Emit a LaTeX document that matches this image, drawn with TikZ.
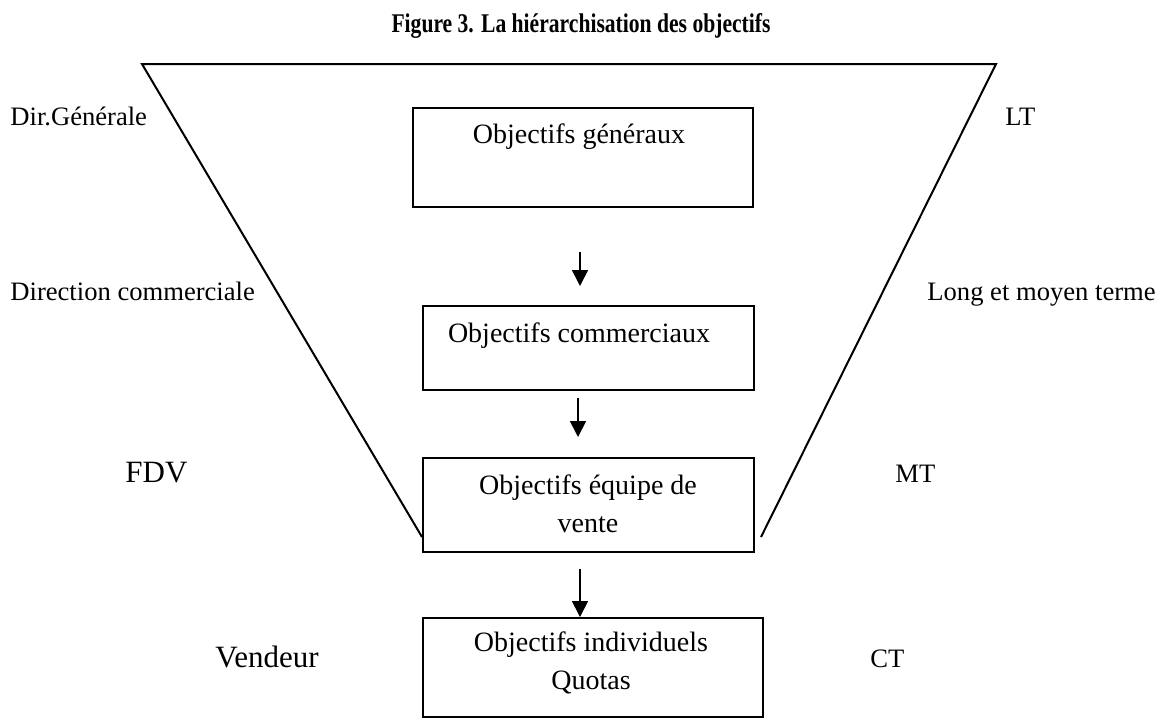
\documentclass[tikz,border=0pt]{standalone}
\usepackage{graphicx}
\usepackage{fontspec}
\setmainfont{Liberation Serif}
\usetikzlibrary{arrows.meta}
\begin{document}
\begin{tikzpicture}[x=0.5pt,y=-0.5pt,
  boxstyle/.style={draw,line width=1pt,inner sep=0pt,anchor=north west},
  boxtext/.style={anchor=base,inner sep=0pt,font=\fontsize{14}{19}\selectfont,align=center},
  smalllab/.style={anchor=base west,inner sep=0pt,font=\fontsize{13.3}{16}\selectfont},
  biglab/.style={anchor=base west,inner sep=0pt,font=\fontsize{15.5}{18}\selectfont},
  flow/.style={line width=0.8pt,-{Triangle[length=8pt,width=8pt]}},
  funnel/.style={line width=1pt}]
\useasboundingbox (0,0) rectangle (1160,720);
% title
\node[anchor=base,inner sep=0pt,font=\bfseries\fontsize{13.5}{16}\selectfont] (title) at (581,32) {\scalebox{0.8}[1]{Figure 3. La hiérarchisation des objectifs}};
% funnel
\coordinate (tl) at (142,64);
\coordinate (tr) at (996,64);
\coordinate (bl) at (422,537);
\coordinate (br) at (761,537);
\draw[funnel] (bl) -- (tl) -- (tr) -- (br);
% boxes
\node[boxstyle,minimum width=340*0.5pt,minimum height=99*0.5pt] (b1) at (412,107) {};
\node[boxstyle,minimum width=331*0.5pt,minimum height=84*0.5pt] (b2) at (422,305) {};
\node[boxstyle,minimum width=331*0.5pt,minimum height=94*0.5pt] (b3) at (422,457) {};
\node[boxstyle,minimum width=340*0.5pt,minimum height=99*0.5pt] (b4) at (422,617) {};
% box texts (base = baseline of last line)
\node[boxtext] (t1) at (579,143) {Objectifs généraux};
\node[boxtext] (t2) at (579,342) {Objectifs commerciaux};
\node[boxtext] (t3) at (588,532) {Objectifs équipe de\\vente};
\node[boxtext] (t4) at (591,689) {Objectifs individuels\\Quotas};
% arrows
\coordinate (a1s) at (580,252);
\coordinate (a1e) at (580,286);
\coordinate (a2s) at (578,398);
\coordinate (a2e) at (578,437);
\coordinate (a3s) at (580,569);
\draw[flow] (a1s) -- (a1e);
\draw[flow] (a2s) -- (a2e);
\draw[flow] (a3s) -- (b4.north -| a3s);
% side labels
\node[smalllab] (dg) at (10,125) {Dir.Générale};
\node[smalllab] (dc) at (10,300) {Direction commerciale};
\node[biglab] (fdv) at (125,482) {FDV};
\node[biglab] (vend) at (215,667) {Vendeur};
\node[smalllab] (lt) at (1005,125) {LT};
\node[smalllab] (lmt) at (927,300) {Long et moyen terme};
\node[smalllab] (mt) at (895,482) {MT};
\node[smalllab] (ct) at (870,667) {CT};
\end{tikzpicture}
\end{document}
